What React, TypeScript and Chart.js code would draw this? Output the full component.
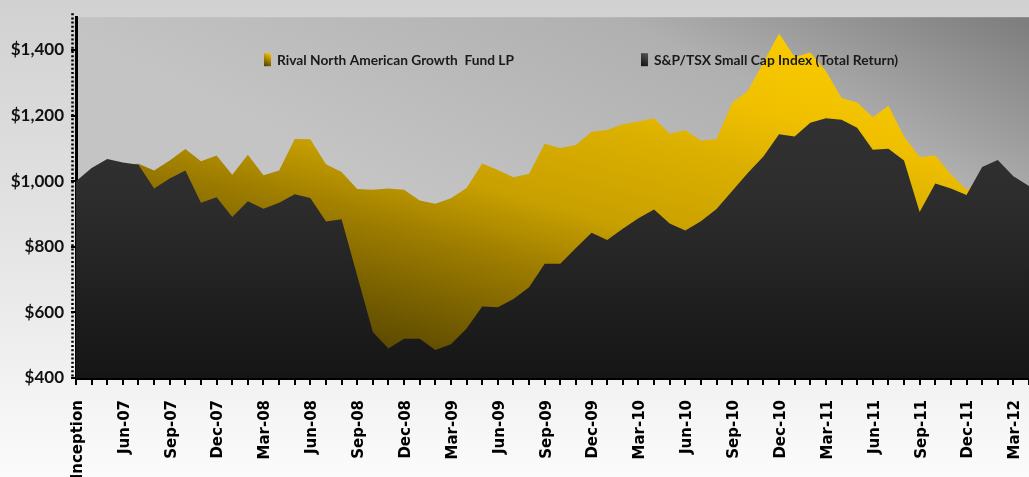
import React, { useEffect, useRef } from 'react';
import { Chart, registerables } from 'chart.js';

Chart.register(...registerables);

const categories: string[] = [
  'Inception', 'Apr-07', 'May-07', 'Jun-07', 'Jul-07', 'Aug-07', 'Sep-07', 'Oct-07', 'Nov-07', 'Dec-07',
  'Jan-08', 'Feb-08', 'Mar-08', 'Apr-08', 'May-08', 'Jun-08', 'Jul-08', 'Aug-08', 'Sep-08', 'Oct-08', 'Nov-08', 'Dec-08',
  'Jan-09', 'Feb-09', 'Mar-09', 'Apr-09', 'May-09', 'Jun-09', 'Jul-09', 'Aug-09', 'Sep-09', 'Oct-09', 'Nov-09', 'Dec-09',
  'Jan-10', 'Feb-10', 'Mar-10', 'Apr-10', 'May-10', 'Jun-10', 'Jul-10', 'Aug-10', 'Sep-10', 'Oct-10', 'Nov-10', 'Dec-10',
  'Jan-11', 'Feb-11', 'Mar-11', 'Apr-11', 'May-11', 'Jun-11', 'Jul-11', 'Aug-11', 'Sep-11', 'Oct-11', 'Nov-11', 'Dec-11',
  'Jan-12', 'Feb-12', 'Mar-12', 'Apr-12',
];

const fundLabel = 'Rival North American Growth  Fund LP';
const indexLabel = 'S&P/TSX Small Cap Index (Total Return)';

const fundValues: number[] = [
  995, 1030, 1055, 1050, 1053, 1033, 1063, 1098, 1061, 1078,
  1020, 1081, 1018, 1033, 1129, 1128, 1052, 1028, 976, 974, 978, 974,
  941, 931, 948, 979, 1054, 1034, 1012, 1023, 1114, 1101, 1110, 1151,
  1156, 1174, 1182, 1192, 1145, 1155, 1124, 1129, 1239, 1275, 1362, 1450,
  1379, 1392, 1336, 1254, 1240, 1195, 1230, 1136, 1074, 1078, 1021, 974,
  1000, 1020, 990, 960,
];

const indexValues: number[] = [
  1000, 1040, 1068, 1057, 1050, 978, 1008, 1033, 934, 951,
  891, 939, 916, 934, 960, 949, 877, 884, 712, 540, 490, 520,
  520, 485, 503, 551, 618, 616, 641, 677, 748, 748, 796, 843,
  821, 855, 887, 914, 871, 850, 878, 915, 970, 1025, 1075, 1143,
  1136, 1178, 1192, 1187, 1163, 1096, 1099, 1063, 906, 993, 978, 958,
  1043, 1065, 1015, 985,
];

const yMin = 400;
const yMax = 1500;
const yStep = 200;

function fundFill(chart: any) {
  const ctx = chart.ctx as CanvasRenderingContext2D;
  const g = ctx.createLinearGradient(-68.9, 250.6, 47.7, -173.5);
  g.addColorStop(0, '#4e3e00');
  g.addColorStop(0.12, '#6a5500');
  g.addColorStop(0.314, '#9a7a00');
  g.addColorStop(0.473, '#c8a000');
  g.addColorStop(0.68, '#dcb000');
  g.addColorStop(0.814, '#f0c000');
  g.addColorStop(1, '#f9cb00');
  return g;
}

function indexFill(chart: any) {
  const a = chart.chartArea;
  const ctx = chart.ctx as CanvasRenderingContext2D;
  if (!a) return '#2a2a2a';
  const g = ctx.createLinearGradient(0, a.top, 0, a.bottom);
  g.addColorStop(0, '#363636');
  g.addColorStop(0.5, '#2d2d2d');
  g.addColorStop(1, '#151515');
  return g;
}

const plotBackground = {
  id: 'plotBackground',
  beforeDraw(chart: any) {
    const { ctx, chartArea: a } = chart;
    const g = ctx.createLinearGradient(0, 0, 183, -382);
    g.addColorStop(0, '#c4c4c4');
    g.addColorStop(0.59, '#b0b0b0');
    g.addColorStop(1, '#7e7e7e');
    ctx.save();
    ctx.fillStyle = g;
    ctx.fillRect(a.left, a.top, a.right - a.left, a.bottom - a.top);
    ctx.restore();
  },
};

const dottedAxis = {
  id: 'dottedAxis',
  afterDraw(chart: any) {
    const { ctx, chartArea: a } = chart;
    ctx.save();
    ctx.strokeStyle = '#000';
    ctx.lineWidth = 2.5;
    ctx.setLineDash([2, 2.2]);
    ctx.beginPath();
    ctx.moveTo(a.left - 3.5, a.top - 4);
    ctx.lineTo(a.left - 3.5, a.bottom);
    ctx.stroke();
    ctx.restore();
  },
};

const innerLegend = {
  id: 'innerLegend',
  afterDatasetsDraw(chart: any) {
    const { ctx, chartArea: a } = chart;
    const items = [
      { ds: 0, x: a.left + 188, w: 237 },
      { ds: 1, x: a.left + 565, w: 244 },
    ];
    ctx.save();
    items.forEach((it) => {
      const by = a.top + 36;
      const bw = 7;
      const bh = 13;
      const g = ctx.createLinearGradient(it.x, by + bh, it.x + bw, by);
      if (it.ds === 0) {
        g.addColorStop(0, '#4a3a00');
        g.addColorStop(1, '#ffcc00');
      } else {
        g.addColorStop(0, '#111111');
        g.addColorStop(1, '#555555');
      }
      ctx.fillStyle = g;
      ctx.fillRect(it.x, by, bw, bh);
      ctx.fillStyle = '#1a1a1a';
      ctx.font = 'bold 14px Lato';
      ctx.textBaseline = 'middle';
      ctx.textAlign = 'left';
      ctx.fillText(chart.data.datasets[it.ds].label, it.x + 13, by + 7.5, it.w);
    });
    ctx.restore();
  },
};

export default function App() {
  const ref = useRef<HTMLCanvasElement>(null);

  useEffect(() => {
    const canvas = ref.current as HTMLCanvasElement;
    const chart = new Chart(canvas, {
      type: 'line',
      data: {
        labels: categories,
        datasets: [
          {
            label: fundLabel,
            data: fundValues,
            fill: 'start',
            order: 2,
            pointRadius: 0,
            borderWidth: 0,
            borderColor: 'rgba(0,0,0,0)',
            tension: 0,
            backgroundColor: (c: any) => fundFill(c.chart),
          },
          {
            label: indexLabel,
            data: indexValues,
            fill: 'start',
            order: 1,
            pointRadius: 0,
            borderWidth: 0,
            borderColor: 'rgba(0,0,0,0)',
            tension: 0,
            backgroundColor: (c: any) => indexFill(c.chart),
          },
        ],
      },
      options: {
        animation: false,
        responsive: false,
        events: [],
        layout: { padding: { top: 15, left: 0, right: 0, bottom: 0 } },
        plugins: {
          legend: { display: false },
          tooltip: { enabled: false },
        },
        scales: {
          x: {
            type: 'category',
            offset: false,
            z: 1,
            grid: {
              display: true,
              drawOnChartArea: false,
              drawTicks: true,
              tickLength: 7,
              color: '#000',
              lineWidth: 2,
            },
            border: { display: true, color: '#000', width: 3 },
            ticks: {
              autoSkip: false,
              maxRotation: 90,
              minRotation: 90,
              padding: 15,
              labelOffset: 2,
              color: '#000',
              font: { family: 'DejaVu Sans', size: 15, weight: 'bold' },
              callback: (_v: any, i: number) => (i % 3 === 0 && i <= 60 ? categories[i] : ''),
            },
            afterFit: (s: any) => {
              s.height = 99;
              s.paddingLeft = 0;
              s.paddingRight = 0;
            },
          },
          y: {
            min: yMin,
            max: yMax,
            z: 1,
            grid: {
              display: true,
              drawOnChartArea: false,
              drawTicks: true,
              tickLength: 5,
              color: '#000',
              lineWidth: 2,
            },
            border: { display: true, color: '#000', width: 3 },
            ticks: {
              stepSize: yStep,
              includeBounds: false,
              padding: 7,
              color: '#111',
              font: { family: 'Lato', size: 17, weight: 'bold' },
              callback: (v: any) => '$' + Number(v).toLocaleString('en-US'),
            },
            afterFit: (s: any) => {
              s.width = 76;
            },
          },
        },
      },
      plugins: [plotBackground, innerLegend, dottedAxis],
    } as any);
    return () => chart.destroy();
  }, []);

  return (
    <div
      style={{
        position: 'fixed',
        left: 0,
        top: 0,
        width: 1029,
        height: 477,
        overflow: 'hidden',
        background: 'linear-gradient(to bottom, #d1d1d1 0%, #e2e2e2 45%, #fbfbfb 100%)',
      }}
    >
      <canvas ref={ref} width={1029} height={477} style={{ display: 'block' }} />
    </div>
  );
}
